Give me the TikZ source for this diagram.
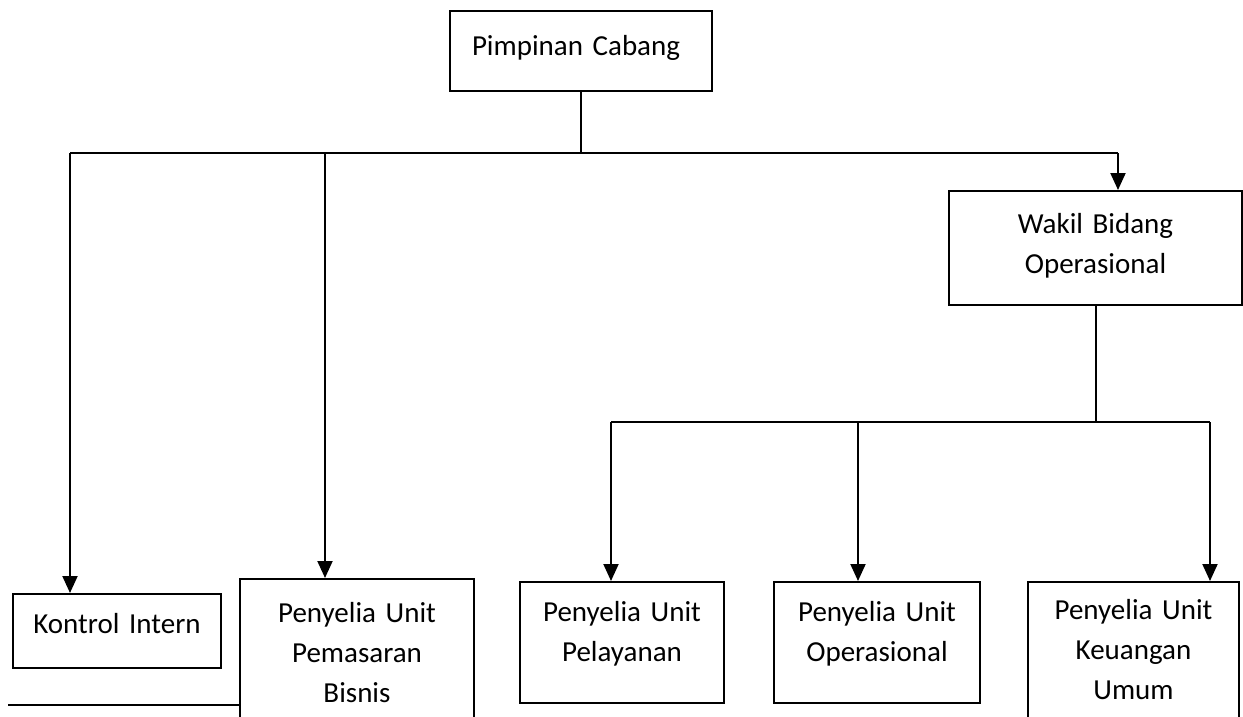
\documentclass[tikz,border=0pt]{standalone}
\usepackage{fontspec}
\setmainfont{Carlito}
\usetikzlibrary{arrows.meta,positioning}
\newcommand{\orgfont}{\fontsize{29}{40}\selectfont}

\begin{document}
\begin{tikzpicture}[x=1pt,y=-1pt,% one unit is one pixel of the page
			every node/.style={
				draw,line width=2pt,
				inner sep=0pt,		% the box is exactly text width by text height+depth
				anchor=north west,
				align=center,		% use this so that the "\\" for line break works
				font=\orgfont
			},
			unit/.style n args={3}{text width=#1,text height=#2,text depth=#3},
			every edge/.style={draw,line width=2pt},
			->/.style={-{Triangle[length=17pt,width=15pt]}}
		]
		\useasboundingbox (0,0) rectangle (1243,717);
		\clip (0,0) rectangle (1243,717);
		\node[unit={218pt}{45pt}{35pt},align=left,inner xsep=22pt](PC) at (449,10){Pimpinan Cabang};
		\node[unit={293pt}{42pt}{72pt}](WB) at (948,190){Wakil Bidang\\ Operasional};
		\node[unit={208pt}{39pt}{35pt}](KI) at (12,593){Kontrol Intern};
		\node[unit={234pt}{43pt}{117pt}](PB) at (239,578){Penyelia Unit\\ Pemasaran\\ Bisnis};
		\node[unit={204pt}{39pt}{82pt}](PL) at (519,581){Penyelia Unit\\ Pelayanan};
		\node[unit={206pt}{39pt}{82pt}](PO) at (773,581){Penyelia Unit\\ Operasional};
		\node[unit={211pt}{37pt}{123pt}](PK) at (1027,581){Penyelia Unit\\ Keuangan\\ Umum};
		% junctions on the two bars
		\coordinate (barL) at (70,153);
		\coordinate (barM) at (325,153);
		\coordinate (barR) at (1118,153);
		\coordinate (subL) at (611,422);
		\coordinate (subM) at (858,422);
		\coordinate (subR) at (1210,422);
		\coordinate (lineL) at (8,705);
		\path
		(PC.south)edge []	(PC.south |- barL)
		(barL)edge []	(barR)
		(WB.south)edge []	(WB.south |- subL)
		(subL)edge []	(subR)
		(lineL)edge []	(lineL -| PB.west)
		;
		\path[->]
		(barL)edge []	(barL |- KI.north)
		(barM)edge []	(barM |- PB.north)
		(barR)edge []	(barR |- WB.north)
		(subL)edge []	(subL |- PL.north)
		(subM)edge []	(subM |- PO.north)
		(subR)edge []	(subR |- PK.north)
		;
	\end{tikzpicture}
\end{document}
